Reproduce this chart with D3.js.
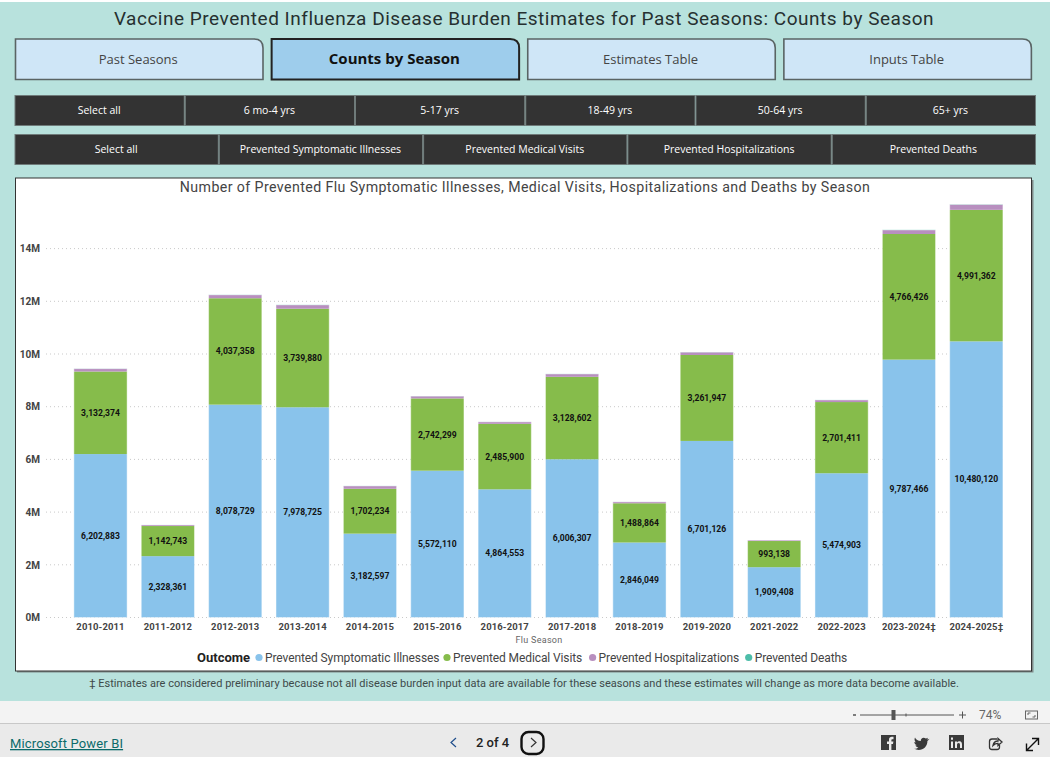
<!DOCTYPE html>
<html>
<head>
<meta charset="utf-8">
<script src="https://cdnjs.cloudflare.com/ajax/libs/d3/7.8.5/d3.min.js"></script>
<style>
html,body{margin:0;padding:0;background:#fff;overflow:hidden}
svg{display:block}
text{font-family:Roboto,"Noto Sans",sans-serif}
.seg{font-family:"Open Sans","Noto Sans",sans-serif}
</style>
</head>
<body>
<svg id="report" width="1050" height="757"></svg>
<script>
// Flu seasons and prevented outcomes per season
const seasons = ["2010-2011","2011-2012","2012-2013","2013-2014","2014-2015","2015-2016","2016-2017","2017-2018","2018-2019","2019-2020","2021-2022","2022-2023","2023-2024‡","2024-2025‡"];
const illnesses = [6202883,2328361,8078729,7978725,3182597,5572110,4864553,6006307,2846049,6701126,1909408,5474903,9787466,10480120];
const medicalVisits = [3132374,1142743,4037358,3739880,1702234,2742299,2485900,3128602,1488864,3261947,993138,2701411,4766426,4991362];
const hospitalizations = [105000,40000,125000,140000,105000,85000,72000,105000,52000,105000,32000,78000,150000,200000];
const deaths = [5000,2000,6000,7000,4000,4000,3000,5000,2000,5000,1000,3000,8000,10000];
const outcomes = ["Prevented Symptomatic Illnesses","Prevented Medical Visits","Prevented Hospitalizations","Prevented Deaths"];
const outcomeColors = ["#89C3EB","#86BC4B","#B88FBF","#4DBDA9"];
const yTicks = [0,2e6,4e6,6e6,8e6,10e6,12e6,14e6];

// Report navigation and slicer labels
const tabs = ["Past Seasons","Counts by Season","Estimates Table","Inputs Table"];
const activeTab = "Counts by Season";
const ageGroups = ["Select all","6 mo-4 yrs","5-17 yrs","18-49 yrs","50-64 yrs","65+ yrs"];
const outcomeFilters = ["Select all",...outcomes];

const svg = d3.select("#report");

// Page background
svg.append("rect").attr("x",0).attr("y",2).attr("width",1050).attr("height",699).attr("fill","#B8E2DD");
svg.append("rect").attr("x",0).attr("y",701).attr("width",1050).attr("height",22).attr("fill","#F3F3F3");
svg.append("rect").attr("x",0).attr("y",723).attr("width",1050).attr("height",1).attr("fill","#C8C8C8");
svg.append("rect").attr("x",0).attr("y",724).attr("width",1050).attr("height",33).attr("fill","#EAEAEA");

svg.append("text").attr("x",524).attr("y",25).attr("text-anchor","middle")
  .attr("font-size",19).attr("letter-spacing",0.52).attr("fill","#263030")
  .text("Vaccine Prevented Influenza Disease Burden Estimates for Past Seasons: Counts by Season");

// Page tabs: square corners except the top right
const tabX = d3.scaleBand().domain(tabs).range([15,1039.5]);
const tabW = 247.5, tabTop = 39, tabBottom = 79.5, r = 9;
const tabG = svg.selectAll("g.tab").data(tabs).join("g").attr("class","tab");
tabG.append("path")
  .attr("d",d=>{const x=tabX(d)+0.5, w=tabW;return `M${x},${tabTop}H${x+w-r}Q${x+w},${tabTop} ${x+w},${tabTop+r}V${tabBottom}H${x}Z`;})
  .attr("fill",d=>d===activeTab?"#9ECDEC":"#CFE6F7")
  .attr("stroke",d=>d===activeTab?"#222":"#5A6464")
  .attr("stroke-width",d=>d===activeTab?2:1.6);
tabG.append("text").attr("class","seg")
  .attr("x",d=>tabX(d)+tabW/2-0.5).attr("y",d=>d===activeTab?64:63.5).attr("text-anchor","middle")
  .attr("font-size",d=>d===activeTab?15:13)
  .attr("font-weight",d=>d===activeTab?700:400)
  .attr("fill",d=>d===activeTab?"#111":"#444")
  .text(d=>d);

// Slicer button rows
function slicerRow(labels, top, height){
  const x = d3.scaleBand().domain(d3.range(labels.length)).range([14.5,1036]);
  const g = svg.append("g");
  g.selectAll("rect").data(labels).join("rect")
    .attr("x",(d,i)=>x(i)+0.5).attr("y",top).attr("width",x.bandwidth()-1).attr("height",height)
    .attr("fill","#333333").attr("stroke","#6F7B7A").attr("stroke-width",1);
  g.selectAll("text").data(labels).join("text").attr("class","seg")
    .attr("x",(d,i)=>x(i)+x.bandwidth()/2-0.5).attr("y",top+height/2+3.2)
    .attr("text-anchor","middle").attr("font-size",10.5).attr("font-weight",500).attr("fill","#fff")
    .text(d=>d);
}
slicerRow(ageGroups,95.5,30);
slicerRow(outcomeFilters,134.5,30);

// Chart panel with a heavier right edge
svg.append("rect").attr("x",17).attr("y",180).attr("width",1016.5).attr("height",492.5).attr("fill","#7F8A89");
svg.append("rect").attr("x",15.5).attr("y",178).attr("width",1016).attr("height",493)
  .attr("fill","#fff").attr("stroke","#333").attr("stroke-width",1);

svg.append("text").attr("x",525).attr("y",192).attr("text-anchor","middle")
  .attr("font-size",14.2).attr("letter-spacing",0.4).attr("fill","#444")
  .text("Number of Prevented Flu Symptomatic Illnesses, Medical Visits, Hospitalizations and Deaths by Season");

// Scales
const x = d3.scaleBand().domain(seasons).range([66.8,1010]).paddingInner(0.21).paddingOuter(0.105);
const y = d3.scaleLinear().domain([0,14e6]).range([617.5,248.6]);

// Gridlines
svg.append("g").selectAll("line").data(yTicks).join("line")
  .attr("x1",46).attr("x2",1004).attr("y1",d=>y(d)).attr("y2",d=>y(d))
  .attr("stroke","#C9C9C9").attr("stroke-width",1).attr("stroke-dasharray","1 3");

// Stacked bars
const rows = seasons.map((s,i)=>({season:s,[outcomes[0]]:illnesses[i],[outcomes[1]]:medicalVisits[i],[outcomes[2]]:hospitalizations[i],[outcomes[3]]:deaths[i]}));
const stacked = d3.stack().keys(outcomes)(rows);
const layers = svg.append("g").selectAll("g").data(stacked).join("g")
  .attr("fill",(d,i)=>outcomeColors[i]);
layers.selectAll("rect").data(d=>d).join("rect")
  .attr("x",d=>x(d.data.season)).attr("width",x.bandwidth())
  .attr("y",d=>y(d[1])).attr("height",d=>y(d[0])-y(d[1]));

// Pale outline round each whole stack
svg.append("g").selectAll("rect").data(stacked[3]).join("rect")
  .attr("x",d=>x(d.data.season)).attr("width",x.bandwidth())
  .attr("y",d=>y(d[1])).attr("height",d=>y(0)-y(d[1]))
  .attr("fill","none").attr("stroke","#fff").attr("stroke-opacity",0.45).attr("stroke-width",1);

// Data labels for the two largest outcomes
stacked.slice(0,2).forEach(layer=>{
  svg.append("g").selectAll("text").data(layer).join("text")
    .attr("x",d=>x(d.data.season)+x.bandwidth()/2)
    .attr("y",d=>(y(d[0])+y(d[1]))/2+3)
    .attr("text-anchor","middle").attr("font-size",8.6).attr("font-weight",700).attr("fill","#111")
    .text(d=>d3.format(",")(d[1]-d[0]));
});

// Axes
const xAxis = svg.append("g").attr("transform","translate(0,618.5)")
  .call(d3.axisBottom(x).tickSize(0).tickPadding(5));
xAxis.select(".domain").remove();
xAxis.selectAll("text").style("font-family","Roboto,sans-serif").attr("font-size",9.5).attr("font-weight",700)
  .attr("fill","#444").attr("letter-spacing",0.1);

const yAxis = svg.append("g").attr("transform","translate(41,0)")
  .call(d3.axisLeft(y).tickValues(yTicks).tickSize(0).tickPadding(1).tickFormat(d=>d/1e6+"M"));
yAxis.select(".domain").remove();
yAxis.selectAll("text").style("font-family","Roboto,sans-serif").attr("font-size",10).attr("font-weight",700)
  .attr("fill","#444");

svg.append("text").attr("x",539).attr("y",643).attr("text-anchor","middle")
  .attr("font-size",9).attr("letter-spacing",0.3).attr("fill","#666").text("Flu Season");

// Legend
const legendY = 657.5;
svg.append("text").attr("x",197).attr("y",legendY+4.5).attr("font-size",13).attr("font-weight",700).attr("fill","#222").text("Outcome");
const legendX = d3.scaleOrdinal().domain(outcomes).range([259,447,592.6,748.7]);
const legend = svg.append("g").selectAll("g").data(outcomes).join("g")
  .attr("transform",d=>`translate(${legendX(d)},${legendY})`);
legend.append("circle").attr("r",3.6).attr("fill",(d,i)=>outcomeColors[i]);
legend.append("text").attr("x",6).attr("y",4.5).attr("font-size",12).attr("letter-spacing",-0.1).attr("fill","#444").text(d=>d);

svg.append("text").attr("x",524).attr("y",687).attr("text-anchor","middle")
  .attr("font-size",11).attr("letter-spacing",0.01).attr("fill","#3E4A4A")
  .text("‡ Estimates are considered preliminary because not all disease burden input data are available for these seasons and these estimates will change as more data become available.");

// Zoom bar
const zoomBar = svg.append("g").attr("stroke","#555").attr("fill","none");
zoomBar.append("line").attr("x1",853).attr("x2",856).attr("y1",715).attr("y2",715).attr("stroke-width",1.5);
zoomBar.append("line").attr("x1",860).attr("x2",954).attr("y1",715).attr("y2",715);
zoomBar.append("line").attr("x1",906).attr("x2",906).attr("y1",713.5).attr("y2",716.5);
zoomBar.append("rect").attr("x",892).attr("y",710.5).attr("width",3).attr("height",9).attr("fill","#555");
zoomBar.append("path").attr("d","M959,715H966M962.5,711.5V718.5");
svg.append("text").attr("x",979).attr("y",719).attr("font-size",12).attr("fill","#666").text("74%");
zoomBar.append("rect").attr("x",1025.5).attr("y",711).attr("width",12).attr("height",8).attr("stroke","#666");
zoomBar.append("path").attr("stroke","#666").attr("d","M1028,715V713H1030.5M1035,715V717H1032.5");

// Footer
svg.append("text").attr("x",10).attr("y",748).attr("font-size",13).attr("fill","#0B6A6A").attr("letter-spacing",0.14)
  .style("text-decoration","underline").text("Microsoft Power BI");
svg.append("path").attr("d","M456,738L451,742.5L456,747").attr("fill","none").attr("stroke","#1F4E8C").attr("stroke-width",1.2);
svg.append("text").attr("x",476).attr("y",747).attr("font-size",13).attr("font-weight",500).attr("fill","#222").text("2 of 4");
svg.append("rect").attr("x",521.5).attr("y",732).attr("width",22).attr("height",22).attr("rx",7)
  .attr("fill","#EAEAEA").attr("stroke","#111").attr("stroke-width",2.4);
svg.append("path").attr("d","M531,738L536,742.5L531,747").attr("fill","none").attr("stroke","#333").attr("stroke-width",1.2);

// Share icons
const icons = svg.append("g").attr("fill","#3A3A3A");
icons.append("rect").attr("x",881).attr("y",735).attr("width",15).attr("height",15);
icons.append("path").attr("fill","#EAEAEA").attr("d","M889,750V744H887V741.5H889V739.6C889,737.6 890.3,736.8 891.8,736.8H893.5V739.2H892.4C891.6,739.2 891.4,739.6 891.4,740.3V741.5H893.4L893,744H891.4V750Z");
icons.append("path").attr("d","M915,737.5C916,739.8 918,741 920.8,741.1C920.4,738.4 923.6,736.5 925.7,738.5C926.5,738.4 927.3,738.1 928,737.7C927.7,738.6 927.2,739.2 926.5,739.7C927.2,739.6 927.9,739.4 929.5,738.8C928.9,739.7 928.2,740.4 927.4,741C927.6,746 923.5,750 918.8,750C917,750 915.4,749.5 914,748.6C915.7,748.8 917.2,748.3 918.4,747.4C917,747.4 915.9,746.5 915.5,745.2C916,745.3 916.4,745.3 916.9,745.1C915.4,744.8 914.3,743.4 914.3,741.9C914.8,742.1 915.3,742.3 915.8,742.3C914.5,741.3 914.2,739 915,737.5Z");
icons.append("rect").attr("x",949).attr("y",735).attr("width",15).attr("height",15);
icons.append("path").attr("fill","#EAEAEA").attr("d","M951,741.5H953V748H951ZM951,737.5H953V739.7H951ZM955,741.5H957V742.5C957.6,741.6 958.5,741.2 959.6,741.3C961.4,741.4 962,742.6 962,744.5V748H960V745C960,743.8 959.7,743 958.6,743C957.5,743 957,743.8 957,745V748H955Z");
svg.append("path").attr("d","M997,739H992C990.5,739 989.5,740 989.5,741.5V747C989.5,748.5 990.5,749.5 992,749.5H997C998.3,749.5 999.5,748.5 999.5,747V745M993,745.5C993.5,743 995.5,741 998,741V738.5L1002,742L998,745.5V743.3C996,743.2 994.5,744 993,745.5Z")
  .attr("fill","none").attr("stroke","#333").attr("stroke-width",1.3);
svg.append("path").attr("d","M1027,750L1038,739M1032,738.5H1038.5V745M1026.5,743.5V750.5H1033")
  .attr("fill","none").attr("stroke","#111").attr("stroke-width",1.4);
</script>
</body>
</html>
